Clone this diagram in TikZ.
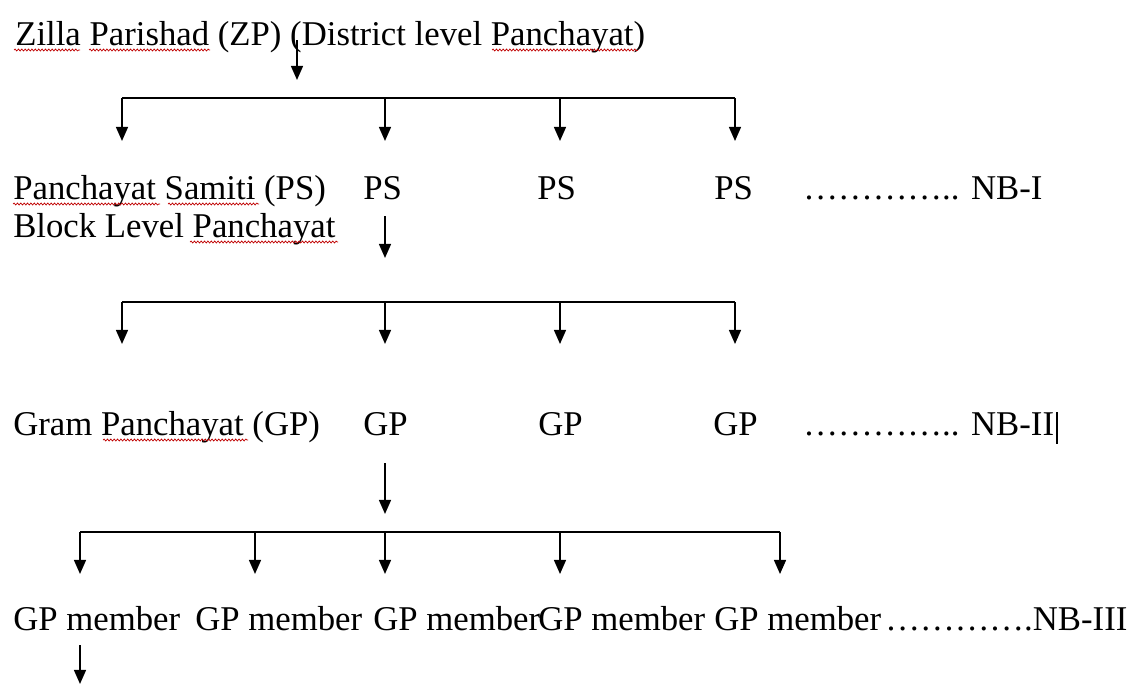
\documentclass[tikz,border=0pt]{standalone}
\usepackage{fontspec}
\setmainfont{Liberation Serif}
\usetikzlibrary{arrows.meta,decorations.pathmorphing}
\tikzset{
  lbl/.style={anchor=base west, inner sep=0pt},
  arr/.style={-{Triangle[width=8.5pt,length=10pt]}, line width=1.2pt},
  bar/.style={line width=1.2pt},
  spell/.style={red!75!black, line width=0.5pt, decorate,
    decoration={snake, amplitude=0.7pt, segment length=2.4pt}}
}
\begin{document}
\begin{tikzpicture}[x=0.025cm, y=-0.025cm, font=\fontsize{24.7}{29}\selectfont]
        \useasboundingbox (0,0) rectangle (1132,684);

        % district level
        \node[lbl] (zp) at (15,45) {Zilla Parishad (ZP) (District level Panchayat)};

        % block level
        \node[lbl] (ps0) at (13,199) {Panchayat Samiti (PS)};
        \node[lbl] (blk) at (13,237) {Block Level Panchayat};
        \node[lbl] (ps1) at (363,199) {PS};
        \node[lbl] (ps2) at (537,199) {PS};
        \node[lbl] (ps3) at (714,199) {PS};
        \node[lbl] (nb1) at (803,199) {………….. NB-I};

        % village level
        \node[lbl] (gp0) at (13,435) {Gram Panchayat (GP)};
        \node[lbl] (gp1) at (363,435) {GP};
        \node[lbl] (gp2) at (538,435) {GP};
        \node[lbl] (gp3) at (713,435) {GP};
        \node[lbl] (nb2) at (803,435) {………….. NB-II};

        % members
        \node[lbl] (m1) at (13,630) {GP member};
        \node[lbl] (m2) at (195,630) {GP member};
        \node[lbl] (m3) at (373,630) {GP member};
        \node[lbl] (m4) at (538,630) {GP member};
        \node[lbl] (m5) at (714,630) {GP member};
        \node[lbl] (nb3) at (885,630) {………….NB-III};

        % ZP -> PS
        \coordinate (zpa) at (297,40);
        \coordinate (zpb) at (297,80);
        \draw[arr] (zpa) -- (zpb);
        \foreach \x [count=\i] in {122,385,560,735} {
            \coordinate (ja\i) at (\x,98);
            \coordinate (ta\i) at (\x,141);
            \draw[arr] (ja\i) -- (ta\i);
        }
        \draw[bar] (ja1) -- (ja4);

        % PS -> GP
        \coordinate (psa) at (385,216);
        \coordinate (psb) at (385,258);
        \draw[arr] (psa) -- (psb);
        \foreach \x [count=\i] in {122,385,560,735} {
            \coordinate (jb\i) at (\x,302);
            \coordinate (tb\i) at (\x,344);
            \draw[arr] (jb\i) -- (tb\i);
        }
        \draw[bar] (jb1) -- (jb4);

        % GP -> members
        \coordinate (gpa) at (385,463);
        \coordinate (gpb) at (385,514);
        \draw[arr] (gpa) -- (gpb);
        \foreach \x [count=\i] in {80,255,385,560,780} {
            \coordinate (jc\i) at (\x,532);
            \coordinate (tc\i) at (\x,574);
            \draw[arr] (jc\i) -- (tc\i);
        }
        \draw[bar] (jc1) -- (jc5);

        \coordinate (ma) at (80,645);
        \coordinate (mb) at (80,684);
        \draw[arr] (ma) -- (mb);

        % spell-check marks
        \draw[spell] (14,50) -- (80,50);
        \draw[spell] (89,50) -- (210,50);
        \draw[spell] (492,50) -- (638,50);
        \draw[spell] (13,204) -- (160,204);
        \draw[spell] (168,204) -- (259,204);
        \draw[spell] (190,242) -- (338,242);
        \draw[spell] (103,440) -- (248,440);

        % text cursor
        \coordinate (cur) at (1057,412);
        \draw[line width=1.8pt] (cur) -- ++(0,32);
    \end{tikzpicture}
\end{document}
